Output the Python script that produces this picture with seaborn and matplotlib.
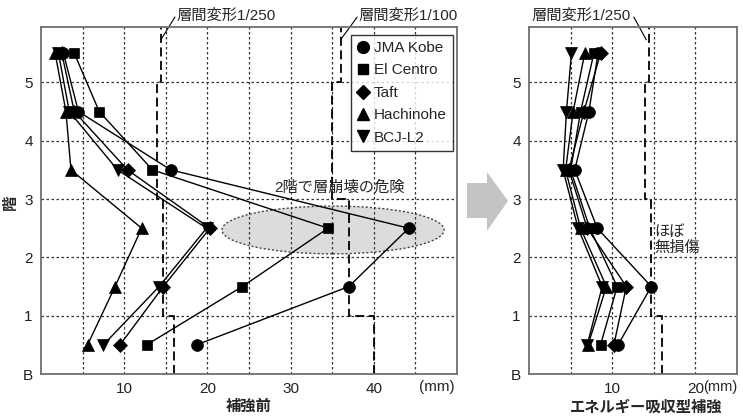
import numpy as np
import pandas as pd
import matplotlib
matplotlib.use("Agg")
import matplotlib.pyplot as plt
import seaborn as sns
from matplotlib.patches import Ellipse, Polygon
from matplotlib.lines import Line2D

# ---------------- data ----------------
floors = [0.5, 1.5, 2.5, 3.5, 4.5, 5.5]
waves = ["JMA Kobe", "El Centro", "Taft", "Hachinohe", "BCJ-L2"]
wave_markers = ["o", "s", "D", "^", "v"]

# 補強前 (before retrofit), mm, floors bottom->top
before_kobe = [18.7, 37.0, 44.2, 15.6, 4.5, 2.7]
before_elcentro = [12.7, 24.2, 34.5, 13.4, 7.0, 4.0]
before_taft = [9.5, 14.7, 20.3, 10.4, 4.0, 2.5]
before_hachinohe = [5.6, 8.9, 12.1, 3.6, 3.0, 1.7]
before_bcj = [7.5, 14.2, 19.9, 9.2, 3.4, 2.1]

# エネルギー吸収型補強 (energy-absorbing retrofit), mm
after_kobe = [10.7, 14.7, 8.2, 5.5, 7.2, 8.3]
after_elcentro = [8.6, 10.6, 7.3, 5.0, 6.2, 7.8]
after_taft = [10.2, 11.7, 7.0, 4.8, 6.6, 8.6]
after_hachinohe = [7.1, 9.3, 6.2, 4.4, 5.3, 6.7]
after_bcj = [7.0, 8.8, 5.9, 4.1, 4.5, 5.1]

# story drift limits (stepped), boundaries on the floor axis
story_bounds = [0, 1, 3, 5, 5.95]
drift_1_250 = [16.0, 14.7, 14.0, 14.4]
drift_1_100 = [40.0, 37.0, 35.0, 36.0]

x_ticks_left = [10, 20, 30, 40]
x_grid_left = [5, 15, 25, 35, 45]
x_ticks_right = [10, 20]
x_grid_right = [5, 15]
y_ticks = [0, 1, 2, 3, 4, 5]
y_ticklabels = ["B", "1", "2", "3", "4", "5"]

before = [before_kobe, before_elcentro, before_taft, before_hachinohe, before_bcj]
after = [after_kobe, after_elcentro, after_taft, after_hachinohe, after_bcj]

def long_df(series):
    rows = []
    for w, vals in zip(waves, series):
        for f, v in zip(floors, vals):
            rows.append({"wave": w, "floor": f, "disp": v})
    return pd.DataFrame(rows)

df_before = long_df(before)
df_after = long_df(after)

# ---------------- style ----------------
sns.set_style("white")
plt.rcParams["font.family"] = ["Liberation Sans", "Noto Sans CJK JP", "DejaVu Sans"]
plt.rcParams["font.size"] = 10

W, H = 743, 416
fig = plt.figure(figsize=(W / 100, H / 100), dpi=100)
axL = fig.add_axes([41 / W, 1 - 374 / H, 416 / W, 347 / H])
axR = fig.add_axes([529 / W, 1 - 374 / H, 208 / W, 347 / H])

msizes = {"o": 8.5, "s": 7.5, "D": 7, "^": 9, "v": 9}

def draw_series(ax, df):
    for w, m in zip(waves, wave_markers):
        sub = df[df["wave"] == w]
        sns.lineplot(data=sub, x="disp", y="floor", sort=False, estimator=None,
                     color="black", marker=m, markersize=msizes[m],
                     markeredgecolor="black", markeredgewidth=0.5,
                     linewidth=1.0, ax=ax, zorder=3)

def draw_limit(ax, vals):
    xs, ys = [], []
    for i, v in enumerate(vals):
        xs += [v, v]
        ys += [story_bounds[i], story_bounds[i + 1]]
    ax.plot(xs, ys, color="black", lw=1.3, ls=(0, (5, 2.5)), zorder=2, clip_on=False)

def style_axes(ax, xmax, xt, xg):
    ax.set_xlim(0, xmax)
    ax.set_ylim(0, 5.95)
    ax.set_xticks(xt)
    ax.set_xticks(xg, minor=True)
    ax.set_yticks(y_ticks)
    ax.set_yticklabels(y_ticklabels)
    ax.set_axisbelow("line")
    ax.grid(True, which="both", color="#333333", lw=0.9, ls=(0, (2, 2)))
    ax.tick_params(which="both", length=0, labelsize=11, pad=6, colors="#222222")
    for s in ax.spines.values():
        s.set_color("#707070")
        s.set_linewidth(1.3)
    ax.set_xlabel("")
    ax.set_ylabel("")

# ---------------- left panel ----------------
ell = Ellipse((35.1, 2.47), 26.7, 0.82, facecolor="#dcdcdc", edgecolor="#444444",
              lw=1.0, ls=(0, (1.5, 1.5)), zorder=1)
axL.add_patch(ell)
draw_limit(axL, drift_1_250)
draw_limit(axL, drift_1_100)
draw_series(axL, df_before)
style_axes(axL, 50, x_ticks_left, x_grid_left)

axL.text(16.3, 6.15, "層間変形1/250", fontsize=11, ha="left", va="center", clip_on=False)
axL.plot([16.1, 14.4], [6.12, 5.73], color="black", lw=0.8, clip_on=False)
axL.text(38.1, 6.15, "層間変形1/100", fontsize=11, ha="left", va="center", clip_on=False)
axL.plot([38.0, 36.0], [6.12, 5.73], color="black", lw=0.8, clip_on=False)
axL.text(35.9, 3.19, "2階で層崩壊の危険", fontsize=11, ha="center", va="center")
axL.text(45.4, -0.23, "(mm)", fontsize=11, ha="left", va="center", clip_on=False)

handles = [Line2D([], [], ls="none", marker=m, color="black", markersize=msizes[m])
           for m in wave_markers]
leg = axL.legend(handles, waves, loc="upper right", bbox_to_anchor=(0.99, 0.977),
                 fontsize=11, frameon=True, fancybox=False, edgecolor="black",
                 handlelength=0.8, handletextpad=0.3, labelspacing=0.55,
                 borderpad=0.4, borderaxespad=0)
leg.get_frame().set_linewidth(1.0)

# ---------------- right panel ----------------
draw_limit(axR, drift_1_250)
draw_series(axR, df_after)
style_axes(axR, 25, x_ticks_right, x_grid_right)
axR.text(0.3, 6.15, "層間変形1/250", fontsize=11, ha="left", va="center", clip_on=False)
axR.plot([12.6, 14.1], [6.12, 5.73], color="black", lw=0.8, clip_on=False)
axR.text(15.1, 2.3, "ほぼ\n無損傷", fontsize=11, ha="left", va="center", linespacing=1.1)
axR.text(25.1, -0.23, "(mm)", fontsize=10.5, ha="right", va="center", clip_on=False)

# ---------------- figure-level labels ----------------
fig.text(249 / W, 1 - 407 / H, "補強前", fontsize=11, ha="center", va="center", fontweight="bold")
fig.text(646 / W, 1 - 407 / H, "エネルギー吸収型補強", fontsize=11, ha="center", va="center",
         fontweight="bold")
fig.text(11 / W, 1 - 202 / H, "階", fontsize=11, ha="center", va="center", rotation=90,
         fontweight="bold")

# gray arrow between panels
arrow_px = [(467, 183), (487, 183), (487, 172), (508, 201), (487, 231), (487, 218), (467, 218)]
arrow = Polygon([(x / W, 1 - y / H) for x, y in arrow_px], closed=True,
                transform=fig.transFigure, facecolor="#c4c4c4", edgecolor="none")
fig.patches.append(arrow)

fig.savefig("out.png", dpi=100)
